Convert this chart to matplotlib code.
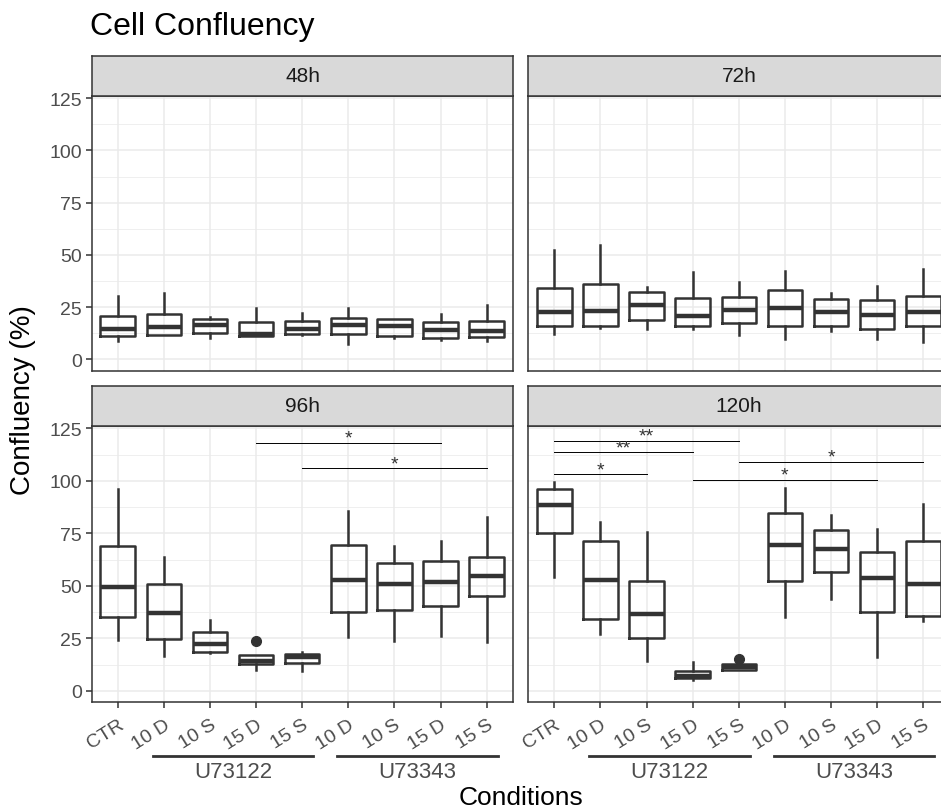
import matplotlib
matplotlib.use("Agg")
import matplotlib.pyplot as plt
import matplotlib.transforms as mtransforms

plt.rcParams["font.family"] = ["Liberation Sans", "DejaVu Sans"]

# ---- data (Confluency %, boxplot stats) ----
conditions = ["CTR", "10 D", "10 S", "15 D", "15 S", "10 D", "10 S", "15 D", "15 S"]
group_names = ["U73122", "U73343"]
group_spans = [(2, 5), (6, 9)]
panel_titles = ["48h", "72h", "96h", "120h"]

h48_lo = [8.8, 11.6, 10.4, 11.3, 11.5, 7.2, 10.0, 9.0, 8.6]
h48_q1 = [10.9, 11.8, 12.5, 11.3, 12.0, 12.0, 10.9, 10.2, 10.6]
h48_med = [14.7, 15.2, 16.3, 12.3, 14.7, 16.6, 15.7, 14.0, 13.4]
h48_q3 = [20.7, 21.7, 19.5, 17.9, 18.2, 19.8, 19.1, 17.9, 18.5]
h48_hi = [30.3, 31.6, 20.0, 24.3, 22.3, 24.4, 19.5, 21.5, 26.2]

h72_lo = [12.0, 14.8, 14.4, 14.4, 11.5, 9.6, 13.6, 9.9, 8.3]
h72_q1 = [15.7, 15.7, 18.8, 16.0, 17.2, 16.0, 16.0, 14.7, 16.0]
h72_med = [22.6, 23.1, 26.0, 20.7, 23.6, 24.3, 22.6, 21.4, 22.6]
h72_q3 = [34.3, 35.9, 32.4, 29.2, 29.7, 33.0, 29.0, 28.4, 30.3]
h72_hi = [52.2, 54.8, 34.6, 41.9, 37.1, 42.5, 31.9, 35.0, 43.4]

h96_lo = [24.3, 16.7, 18.0, 10.0, 9.4, 25.4, 23.8, 25.9, 23.0]
h96_q1 = [35.0, 24.6, 18.3, 12.6, 13.0, 37.3, 38.4, 40.5, 45.0]
h96_med = [49.3, 37.0, 22.2, 14.0, 16.0, 52.7, 50.8, 51.9, 54.8]
h96_q3 = [68.8, 50.8, 27.8, 16.9, 17.5, 69.6, 60.8, 61.6, 63.5]
h96_hi = [96.1, 63.5, 33.8, 16.9, 18.6, 85.5, 68.8, 71.5, 82.6]
h96_out = [[], [], [], [23.8], [], [], [], [], []]

h120_lo = [54.0, 27.0, 14.3, 5.2, 10.0, 35.0, 43.7, 15.9, 33.3]
h120_q1 = [75.1, 34.2, 25.1, 5.9, 10.0, 52.1, 56.4, 37.3, 35.7]
h120_med = [88.6, 52.7, 36.5, 7.2, 11.3, 69.4, 67.5, 53.5, 50.8]
h120_q3 = [96.1, 71.5, 52.4, 9.5, 12.6, 84.5, 76.7, 66.2, 71.2]
h120_hi = [99.3, 80.2, 75.8, 13.5, 12.6, 96.4, 83.7, 77.0, 88.9]
h120_out = [[], [], [], [], [15.1], [], [], [], []]

no_out = [[] for _ in conditions]

# significance brackets: (from, to, height, label)
sig_96 = [(4, 8, 118.2, "*"), (5, 9, 106.0, "*")]
sig_120 = [(1, 5, 119.0, "**"), (1, 4, 113.6, "**"), (1, 3, 103.1, "*"),
           (5, 9, 109.0, "*"), (4, 8, 100.4, "*")]

panels = [
    (h48_lo, h48_q1, h48_med, h48_q3, h48_hi, no_out, []),
    (h72_lo, h72_q1, h72_med, h72_q3, h72_hi, no_out, []),
    (h96_lo, h96_q1, h96_med, h96_q3, h96_hi, h96_out, sig_96),
    (h120_lo, h120_q1, h120_med, h120_q3, h120_hi, h120_out, sig_120),
]

W, H = 941, 812
fig = plt.figure(figsize=(W / 100, H / 100), dpi=100)


def px_axes(x, y, w, h):
    return fig.add_axes([x / W, 1 - (y + h) / H, w / W, h / H])


dark = "#333333"
boxes = [(91.7, 427 - 330), (528.3, 427 - 330), (91.7, 427), (528.3, 427)]
pw, ph, strip_h = 421.6, 276.3, 40

for i, (px, py) in enumerate(boxes):
    lo, q1, med, q3, hi, out, sigs = panels[i]
    ph_i = 274.7 if i < 2 else ph
    ax = px_axes(px, py, pw, ph_i)

    stats = []
    for k in range(len(conditions)):
        stats.append(dict(whislo=lo[k], q1=q1[k], med=med[k], q3=q3[k],
                          whishi=hi[k], fliers=out[k]))
    ax.bxp(stats, positions=range(1, 10), widths=0.75, showfliers=True,
           boxprops=dict(color=dark, lw=1.8),
           medianprops=dict(color=dark, lw=3.2, solid_capstyle="butt"),
           whiskerprops=dict(color=dark, lw=1.8),
           capprops=dict(lw=0),
           flierprops=dict(marker="o", markerfacecolor=dark, markeredgecolor=dark,
                           markersize=7))

    ax.set_xlim(0.436, 9.577)
    ax.set_ylim(-5.5, 126.1)
    ax.set_yticks([0, 25, 50, 75, 100, 125])
    ax.set_yticks([12.5, 37.5, 62.5, 87.5, 112.5], minor=True)
    ax.set_xticks(range(1, 10))
    ax.grid(True, which="major", color="#EBEBEB", lw=1.1)
    ax.grid(True, which="minor", axis="y", color="#EBEBEB", lw=0.55)
    ax.set_axisbelow(True)
    for s in ax.spines.values():
        s.set_color(dark)
        s.set_linewidth(1.1)
    ax.tick_params(which="minor", length=0)
    ax.tick_params(which="major", color=dark, length=4, width=1.1,
                   labelcolor="#4D4D4D", labelsize=14, pad=3)

    if i % 2 == 0:
        ax.set_yticklabels(["0", "25", "50", "75", "100", "125"])
    else:
        ax.tick_params(axis="y", length=0, labelleft=False)

    if i >= 2:
        ax.set_xticklabels(conditions, rotation=32, ha="right", va="top",
                           rotation_mode="anchor")
        ax.tick_params(axis="x", pad=6)
        trans = mtransforms.blended_transform_factory(ax.transData, ax.transAxes)
        for name, (a, b) in zip(group_names, group_spans):
            ax.plot([a - 0.24, b + 0.24], [-0.195, -0.195], color=dark, lw=2.0,
                    transform=trans, clip_on=False)
            ax.text((a + b) / 2, -0.212, name, transform=trans, ha="center",
                    va="top", fontsize=16, color="#4D4D4D")
    else:
        ax.tick_params(axis="x", length=0, labelbottom=False)

    for a, b, yv, lab in sigs:
        ax.plot([a, b], [yv, yv], color="black", lw=0.7)
        ax.text((a + b) / 2, yv + 0.1, lab, ha="center", va="baseline",
                fontsize=14, color="#333333")

    sax = px_axes(px, py - strip_h, pw, strip_h)
    sax.set_facecolor("#D9D9D9")
    sax.set_xticks([])
    sax.set_yticks([])
    for s in sax.spines.values():
        s.set_color(dark)
        s.set_linewidth(1.1)
    sax.text(0.5, 0.5, panel_titles[i], transform=sax.transAxes, ha="center",
             va="center", fontsize=15, color="#1A1A1A")

fig.text(90 / W, 1 - 35 / H, "Cell Confluency", fontsize=23, ha="left",
         va="baseline", color="black")
fig.text(520.8 / W, 1 - 805 / H, "Conditions", fontsize=19, ha="center",
         va="baseline", color="black")
fig.text(23.5 / W, 1 - 400 / H, "Confluency (%)", fontsize=20, ha="center",
         va="center", rotation=90, color="black")

fig.savefig("out.png", dpi=100)
